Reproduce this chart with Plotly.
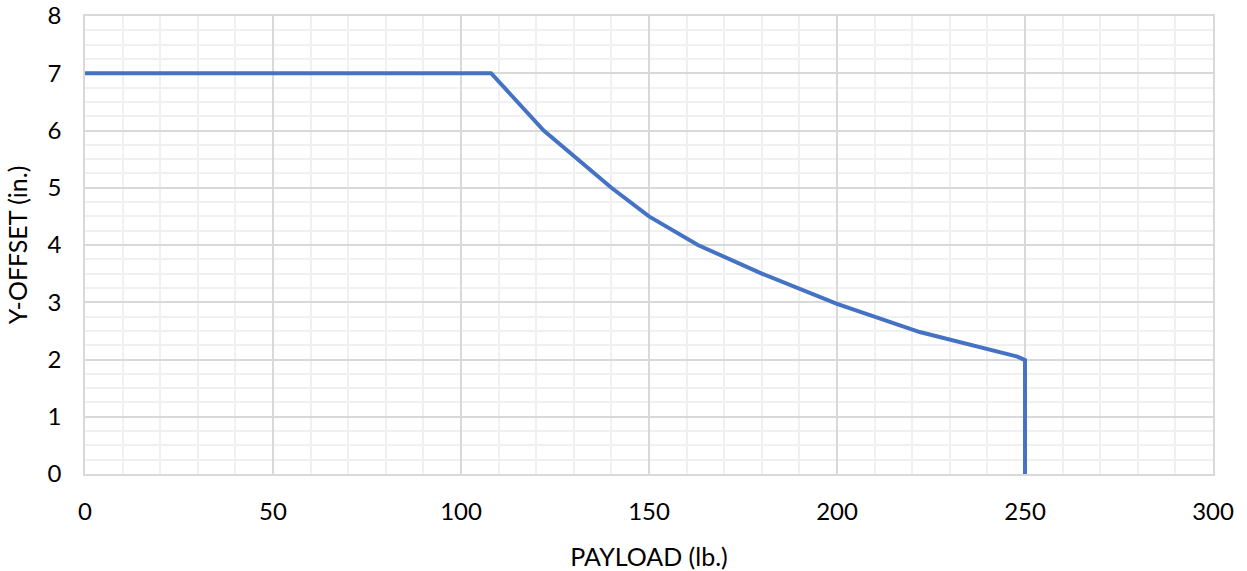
import plotly.graph_objects as go

# payload (lb.) vs allowed y-offset (in.)
payload_lb = [0, 108, 122, 140, 150, 163, 180, 200, 222, 248, 250, 250]
y_offset_in = [7, 7, 6, 5, 4.5, 4, 3.5, 2.97, 2.48, 2.05, 1.99, 0]

x_ticks = [0, 50, 100, 150, 200, 250, 300]
y_ticks = [0, 1, 2, 3, 4, 5, 6, 7, 8]

FONT = "Lato, Open Sans, sans-serif"
MAJOR = "#d9d9d9"
MINOR = "#f0f0f0"

fig = go.Figure()

fig.add_trace(
    go.Scatter(
        x=payload_lb,
        y=y_offset_in,
        mode="lines",
        line=dict(color="#4472C4", width=4),
        showlegend=False
    )
)

fig.update_layout(
    width=1247,
    height=571,
    paper_bgcolor="white",
    plot_bgcolor="white",
    font=dict(family=FONT, size=24, color="#000000"),
    margin=dict(l=85, r=34, t=16, b=97, autoexpand=False),
    xaxis=dict(
        range=[0, 300],
        tickvals=x_ticks,
        title=dict(text="PAYLOAD (lb.)", font=dict(size=25), standoff=31),
        automargin=False,
        showgrid=True,
        gridcolor=MAJOR,
        gridwidth=1.5,
        minor=dict(dtick=10, showgrid=True, gridcolor=MINOR, gridwidth=1.5),
        showline=True,
        linecolor=MAJOR,
        linewidth=1.5,
        mirror=True,
        zeroline=False,
        ticks="",
        ticklabelstandoff=15
    ),
    yaxis=dict(
        range=[0, 8],
        tickvals=y_ticks,
        title=dict(text="Y-OFFSET (in.)", font=dict(size=25), standoff=13),
        automargin=False,
        showgrid=True,
        gridcolor=MAJOR,
        gridwidth=1.5,
        minor=dict(dtick=0.25, showgrid=True, gridcolor=MINOR, gridwidth=1.5),
        showline=True,
        linecolor=MAJOR,
        linewidth=1.5,
        mirror=True,
        zeroline=False,
        ticks="",
        ticklabelstandoff=17
    )
)

# drop the default page margin so the figure sits at the window corner
fig.write_html(
    "out.html",
    config={"displayModeBar": False},
    post_script="document.body.style.margin='0';"
)
